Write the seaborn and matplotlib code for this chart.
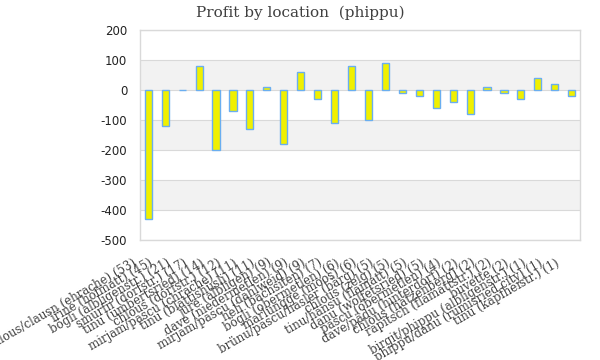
import pandas as pd
import matplotlib
matplotlib.use('Agg')
import matplotlib.pyplot as plt
import matplotlib.transforms as mtransforms
import seaborn as sns

# Données
locations = [
    'chlous/clausn (ehrache) (53)', 'irine (hofmatt) (45)', 'bögli (albligenstr.) (21)',
    'smurfn (dorfstr.) (17)', 'tinu (umbertsried) (14)', 'chlous (dorfstr.) (12)',
    'mirjam/pascu (chrache) (11)', 'tinu (blattishüsli) (11)', 'jure (albligen) (9)',
    'dave (niedermetlen) (9)', 'mirjam/pascu (dahlweid) (9)', 'heli (bachsiten) (7)',
    'bögli (obermetlen) (6)', 'marlungge (moos) (6)', 'brünu/pascu/hasler (bärg) (5)',
    'chlous (zelg) (5)', 'tinu/hänsu (flamatt) (5)', 'danu (wolfetsried) (5)',
    'pascu (obermetlen) (4)', 'dave/pädu (hinterdorf) (2)', 'chlous (hatzenberg) (2)',
    'rapitsch (flamattstr.) (2)', 'buvette (2)', 'birgit/phippu (albligenstr.) (1)',
    'phippu/danu (rumisried city) (1)', 'tinu (kapfheistr.) (1)',
]
profit = [-430, -120, 1, 80, -200, -70, -130, 10, -180, 60, -30, -110, 80,
          -100, 90, -10, -20, -60, -40, -80, 10, -10, -30, 40, 20, -20]
y_ticks = [-500, -400, -300, -200, -100, 0, 100, 200]

df = pd.DataFrame({'location': locations, 'profit': profit})

sns.set_theme(style='white')
plt.rcParams['font.family'] = ['DejaVu Serif']

fig = plt.figure(figsize=(6, 3.6), dpi=100)
ax = fig.add_axes([0.233, 0.333, 0.734, 0.584])

# bandes grises alternées
for lo, hi in [(0, 100), (-200, -100), (-400, -300)]:
    ax.axhspan(lo, hi, color='#f2f2f2', zorder=0, lw=0)
for y in y_ticks:
    ax.axhline(y, color='#d9d9d9', lw=0.8, zorder=0.5)

sns.barplot(data=df, x='location', y='profit', color='#f0f000', edgecolor='#6aaef0',
            linewidth=1.0, width=0.42, saturation=1, ax=ax, zorder=2)

ax.set_ylim(-500, 200)
ax.set_yticks(y_ticks)
ax.set_yticklabels([str(v) for v in y_ticks], family='DejaVu Sans', fontsize=8.5, color='#222222')
ax.set_xlabel('')
ax.set_ylabel('')
ax.tick_params(axis='y', length=0, pad=9)
ax.tick_params(axis='x', length=0, pad=0)

# étiquettes inclinées, décalées comme dans l'original
offset = mtransforms.ScaledTranslation(-0.13, -0.22, fig.dpi_scale_trans)
for lbl in ax.get_xticklabels():
    lbl.set_rotation(30)
    lbl.set_ha('right')
    lbl.set_va('center')
    lbl.set_rotation_mode('anchor')
    lbl.set_fontsize(8.5)
    lbl.set_color('#404040')
    lbl.set_transform(lbl.get_transform() + offset)

for s in ax.spines.values():
    s.set_color('#d9d9d9')
    s.set_linewidth(1)

fig.suptitle('Profit by location  (phippu)', x=0.5, y=0.985, fontsize=11, color='#404040')

plt.savefig('out.png', dpi=100)
